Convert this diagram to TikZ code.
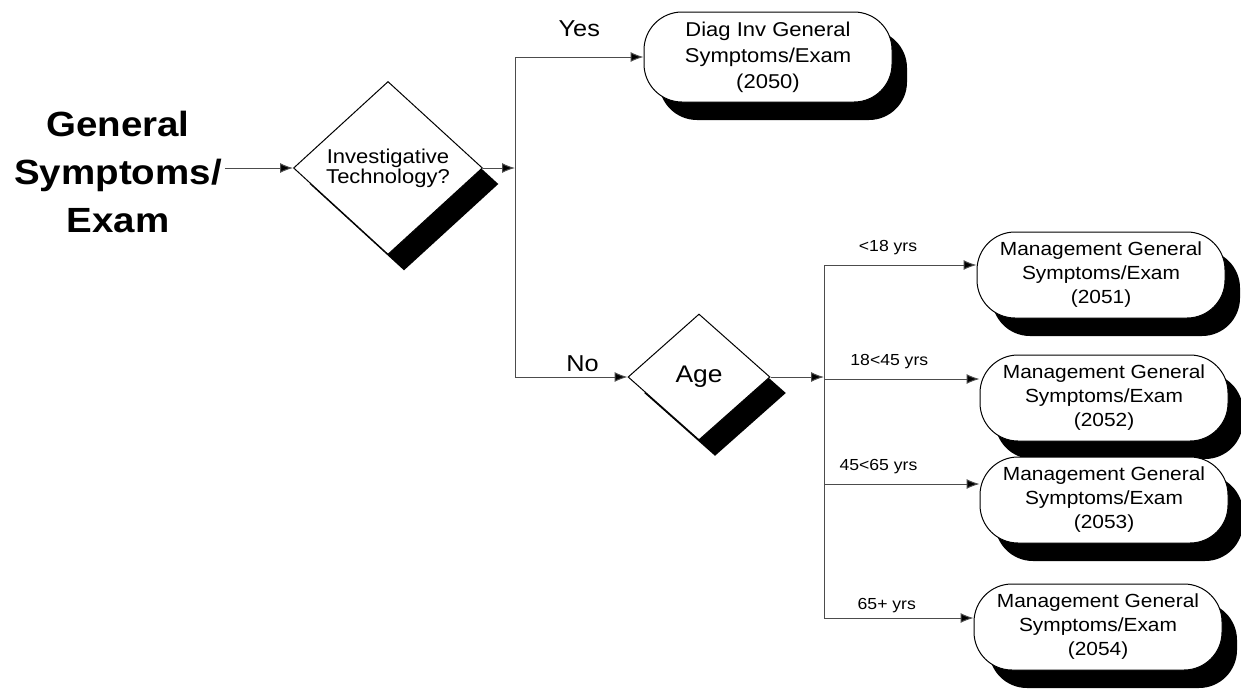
\documentclass[tikz,border=0pt]{standalone}
\usepackage{fontspec}
\setmainfont[FakeStretch=1.1]{Liberation Sans}
\usetikzlibrary{positioning,shapes.geometric,shadows,arrows.meta}
\tikzset{
  topic/.style={align=center, inner sep=3pt, font=\bfseries\fontsize{35}{48}\selectfont},
  decision/.style={diamond, draw, fill=white, line width=1pt, inner sep=0pt, align=center,
    drop shadow={shadow xshift=16pt, shadow yshift=-16pt, fill=black, opacity=1}},
  outcome/.style={rectangle, rounded corners=38pt, draw, fill=white, line width=1pt,
    minimum width=248pt, minimum height=86pt, align=center, inner sep=0pt,
    font=\fontsize{19}{24}\selectfont,
    drop shadow={shadow xshift=15pt, shadow yshift=-18pt, fill=black, opacity=1}},
  flow/.style={draw=black!70, line width=1pt, -{Latex[length=13pt,width=10pt,fill=black]}},
  line/.style={draw=black!70, line width=1pt},
  answer/.style={font=\fontsize{23}{26}\selectfont, inner sep=2pt},
  agegroup/.style={font=\fontsize{16}{19}\selectfont, inner sep=2pt},
}

\begin{document}
\begin{tikzpicture}[x=1pt, y=-1pt]
  \useasboundingbox (0,0) rectangle (1241,688);

  % question nodes
  \node[topic] (topic) at (118,172) {General\\Symptoms/\\Exam};
  \node[decision, minimum width=189pt, minimum height=173pt,
        font=\fontsize{20}{20}\selectfont] (invtech) at (388,168) {Investigative\\Technology?};
  \node[decision, minimum width=142pt, minimum height=126pt,
        font=\fontsize{24}{26}\selectfont] (age) at (699,377) {Age};

  % outcomes
  \node[outcome, minimum height=90pt, font=\fontsize{20}{26}\selectfont]
        (diaginv) at (768,57) {Diag Inv General\\Symptoms/Exam\\(2050)};
  \node[outcome] (mgmt1) at (1101,275) {Management General\\Symptoms/Exam\\(2051)};
  \node[outcome] (mgmt2) at (1104,398) {Management General\\Symptoms/Exam\\(2052)};
  \node[outcome] (mgmt3) at (1104,500) {Management General\\Symptoms/Exam\\(2053)};
  \node[outcome] (mgmt4) at (1098,627) {Management General\\Symptoms/Exam\\(2054)};

  % branch points
  \coordinate (split) at (515,168);
  \coordinate (fork) at (824,377);
  \coordinate (b1) at (824,265);
  \coordinate (b2) at (824,379);
  \coordinate (b3) at (824,484);
  \coordinate (b4) at (824,618);

  \draw[flow] (topic.east |- invtech.west) -- (invtech.west);
  \draw[flow] (invtech.east) -- (split);
  \draw[flow] (split) |- node[answer, pos=0.75, above=18pt] (yeslbl) {Yes} (diaginv.west);
  \draw[flow] (split) |- node[answer, pos=0.8, above=3pt] (nolbl) {No} (age.west);

  \draw[flow] (age.east) -- (fork);
  \draw[line] (b1) -- (b4);
  \draw[flow] (b1) -- node[agegroup, pos=0.42, above=8pt] (lbl1) {<18 yrs} (b1 -| mgmt1.west);
  \draw[flow] (b2) -- node[agegroup, pos=0.42, above=8pt] (lbl2) {18<45 yrs} (b2 -| mgmt2.west);
  \draw[flow] (b3) -- node[agegroup, pos=0.35, above=8pt] (lbl3) {45<65 yrs} (b3 -| mgmt3.west);
  \draw[flow] (b4) -- node[agegroup, pos=0.42, above=3pt] (lbl4) {65+ yrs} (b4 -| mgmt4.west);
\end{tikzpicture}
\end{document}
